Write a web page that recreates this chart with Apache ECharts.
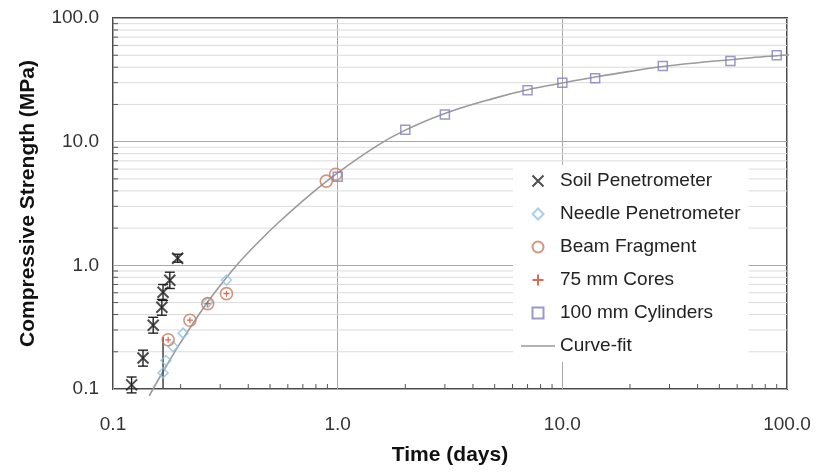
<!DOCTYPE html>
<html>
<head>
<meta charset="utf-8">
<script src="https://cdn.jsdelivr.net/npm/echarts@6/dist/echarts.min.js"></script>
<style>
  html, body { margin: 0; padding: 0; background: #fff; }
  #chart { width: 829px; height: 472px; }
</style>
</head>
<body>
<div id="chart"></div>
<script>
// soil penetrometer (with error bars)
var soilX = [0.121, 0.136, 0.151, 0.165, 0.167, 0.179, 0.194]
var soilY = [0.108, 0.178, 0.328, 0.458, 0.605, 0.757, 1.14]
var soilLo = [0.093, 0.153, 0.283, 0.395, 0.52, 0.65, 1.06]
var soilHi = [0.125, 0.206, 0.38, 0.53, 0.70, 0.88, 1.23]

// needle penetrometer
var needleX = [0.167, 0.172, 0.185, 0.205, 0.264, 0.32]
var needleY = [0.135, 0.17, 0.22, 0.283, 0.50, 0.76]

// beam fragment
var beamX = [0.176, 0.22, 0.264, 0.32, 0.89, 0.98]
var beamY = [0.25, 0.36, 0.49, 0.59, 4.8, 5.45]

// 75 mm cores
var coreX = [0.176, 0.22, 0.264, 0.32]
var coreY = [0.25, 0.36, 0.49, 0.59]

// 100 mm cylinders
var cylX = [1.0, 2, 3, 7, 10, 14, 28, 56, 90]
var cylY = [5.2, 12.5, 16.6, 26, 30, 32.5, 41, 45, 50]

// curve-fit
var fitX = [0.145, 0.16, 0.18, 0.2, 0.25, 0.3, 0.36, 0.45, 0.55, 0.75, 1, 1.5, 2, 3, 5, 7, 10, 14, 20, 28, 40, 56, 80, 100, 107]
var fitY = [0.088, 0.121, 0.174, 0.238, 0.44, 0.687, 1.03, 1.58, 2.25, 3.7, 5.6, 9.3, 12.4, 16.9, 22.5, 26.3, 29.8, 33.3, 37, 40.5, 43.5, 46, 48.8, 50.2, 50.8]

// short vertical line near 0.16 days
var setX = [0.167, 0.167]
var setY = [0.1, 0.263]

// minor grid / tick values
var minorVals = [0.2, 0.3, 0.4, 0.5, 0.6, 0.7, 0.8, 0.9, 2, 3, 4, 5, 6, 7, 8, 9, 20, 30, 40, 50, 60, 70, 80, 90]

var legendNames = ['Soil Penetrometer', 'Needle Penetrometer', 'Beam Fragment', '75 mm Cores', '100 mm Cylinders', 'Curve-fit']
var legendIcons = {
  'Needle Penetrometer': 'path://M5,0L10,5L5,10L0,5Z',
  '100 mm Cylinders': 'path://M1,1L9,1L9,9L1,9Z',
  'Curve-fit': 'path://M0,0L34,0L34,1.2L0,1.2Z'
}

function zip(a, b) {
  return a.map(function (v, i) { return [v, b[i]] })
}

var font = '"Liberation Sans", Arial, sans-serif'

var myChart = echarts.init(document.getElementById('chart'))
myChart.setOption({
  animation: false,
  grid: {
    left: 113, right: 42, top: 18, bottom: 83,
    show: true, borderColor: '#4a4a4a', borderWidth: 2, backgroundColor: '#fff'
  },
  legend: {
    data: legendNames.map(function (n) {
      if (n === 'Curve-fit') {
        return { name: n, icon: legendIcons[n], itemStyle: { color: '#666', borderWidth: 0 } }
      }
      if (legendIcons[n]) return { name: n, icon: legendIcons[n] }
      return { name: n }
    }),
    orient: 'vertical',
    left: 513, top: 165,
    padding: [6, 8, 6, 8],
    itemWidth: 34, itemHeight: 11, itemGap: 13,
    symbolKeepAspect: true,
    backgroundColor: '#fff',
    textStyle: { fontFamily: font, fontSize: 19, color: '#222', lineHeight: 20 }
  },
  xAxis: {
    type: 'log', logBase: 10, min: 0.1, max: 100,
    name: 'Time (days)', nameLocation: 'middle', nameGap: 56,
    nameTextStyle: { fontFamily: font, fontSize: 21, fontWeight: 'bold', color: '#111' },
    axisLine: { show: false },
    axisTick: { show: false },
    axisLabel: {
      fontFamily: font, fontSize: 19, color: '#333', margin: 26,
      formatter: function (v) { return (+v).toFixed(1) }
    },
    splitLine: { show: true, lineStyle: { color: '#a8a8a8', width: 1 } }
  },
  yAxis: {
    type: 'log', logBase: 10, min: 0.1, max: 100,
    name: 'Compressive Strength (MPa)', nameLocation: 'middle', nameGap: 74,
    nameTextStyle: { fontFamily: font, fontSize: 21, fontWeight: 'bold', color: '#111' },
    axisLine: { show: false },
    axisTick: { show: false },
    axisLabel: {
      fontFamily: font, fontSize: 19, color: '#333', margin: 14,
      formatter: function (v) { return (+v).toFixed(1) }
    },
    splitLine: { show: true, lineStyle: { color: '#a8a8a8', width: 1 } }
  },
  series: [
    // minor grid lines + minor ticks
    {
      type: 'custom', silent: true, z: 1,
      data: minorVals.map(function (v) { return [v, v] }),
      renderItem: function (params, api) {
        var v = api.value(0)
        var cs = params.coordSys
        var py = api.coord([1, v])[1]
        var px = api.coord([v, 1])[0]
        var by = cs.y + cs.height
        return {
          type: 'group',
          children: [
            { type: 'line', shape: { x1: cs.x, y1: py, x2: cs.x + cs.width, y2: py }, style: { stroke: '#dcdcdc', lineWidth: 1 } },
            { type: 'line', shape: { x1: cs.x, y1: py, x2: cs.x + 5, y2: py }, style: { stroke: '#555', lineWidth: 1 } },
            { type: 'line', shape: { x1: px, y1: by, x2: px, y2: by - 5 }, style: { stroke: '#555', lineWidth: 1 } }
          ]
        }
      }
    },
    {
      name: 'Curve-fit', type: 'line', data: zip(fitX, fitY),
      smooth: 0.4, symbol: 'none', clip: false, z: 2,
      lineStyle: { color: '#9a9a9a', width: 1.6 },
      itemStyle: { color: '#666' }
    },
    {
      type: 'line', data: zip(setX, setY), symbol: 'none', z: 2,
      lineStyle: { color: '#444', width: 1.5 }
    },
    // soil error bars
    {
      type: 'custom', silent: true, z: 3,
      data: soilX.map(function (x, i) { return [x, soilLo[i], soilHi[i]] }),
      renderItem: function (params, api) {
        var lo = api.coord([api.value(0), api.value(1)])
        var hi = api.coord([api.value(0), api.value(2)])
        var st = { stroke: '#222', lineWidth: 1.4 }
        return {
          type: 'group',
          children: [
            { type: 'line', shape: { x1: lo[0], y1: lo[1], x2: hi[0], y2: hi[1] }, style: st },
            { type: 'line', shape: { x1: lo[0] - 5, y1: lo[1], x2: lo[0] + 5, y2: lo[1] }, style: st },
            { type: 'line', shape: { x1: hi[0] - 5, y1: hi[1], x2: hi[0] + 5, y2: hi[1] }, style: st }
          ]
        }
      }
    },
    {
      name: 'Soil Penetrometer', type: 'scatter', data: zip(soilX, soilY), z: 4,
      symbol: 'path://M0,0L10,10M10,0L0,10', symbolSize: 11, symbolKeepAspect: true,
      itemStyle: { color: 'none', borderColor: '#222', borderWidth: 2 }
    },
    {
      name: 'Needle Penetrometer', type: 'scatter', data: zip(needleX, needleY), z: 4,
      symbol: 'diamond', symbolSize: 10, symbolKeepAspect: true,
      itemStyle: { color: 'rgba(255,255,255,0)', borderColor: '#8fc3e6', borderWidth: 1.5 }
    },
    {
      name: 'Beam Fragment', type: 'scatter', data: zip(beamX, beamY), z: 4,
      symbol: 'circle', symbolSize: 12,
      itemStyle: { color: 'rgba(255,255,255,0)', borderColor: '#c77a5c', borderWidth: 1.6 }
    },
    {
      name: '75 mm Cores', type: 'scatter', data: zip(coreX, coreY), z: 5,
      symbol: 'path://M5,0L5,10M0,5L10,5', symbolSize: 6, symbolKeepAspect: true,
      itemStyle: { color: 'none', borderColor: '#d0452a', borderWidth: 1.2 }
    },
    {
      name: '100 mm Cylinders', type: 'scatter', data: zip(cylX, cylY), z: 4,
      symbol: 'rect', symbolSize: 9, symbolKeepAspect: true,
      itemStyle: { color: 'rgba(255,255,255,0)', borderColor: '#7f7fbf', borderWidth: 1.5 }
    }
  ]
})
</script>
</body>
</html>
